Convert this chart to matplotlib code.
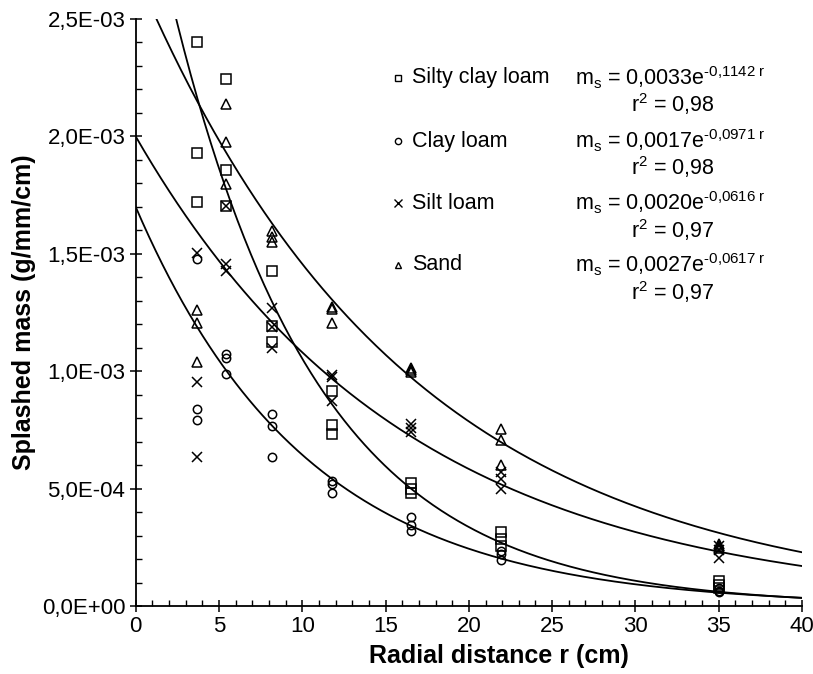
import numpy as np
import matplotlib
matplotlib.use("Agg")
import matplotlib.pyplot as plt
from matplotlib.ticker import FixedLocator, MultipleLocator

plt.rcParams['font.family'] = ['Liberation Sans', 'DejaVu Sans']
plt.rcParams['mathtext.fontset'] = 'custom'
plt.rcParams['mathtext.rm'] = 'Liberation Sans'
plt.rcParams['mathtext.it'] = 'Liberation Sans'

# Radial sampling distances (cm)
distance = [3.7, 5.4, 8.2, 11.8, 16.5, 21.9, 35.0]

# Splashed mass replicates (x1e-3 g/mm/cm) at each distance
silty_clay_loam = [[2.400, 1.930, 1.720], [2.245, 1.855, 1.705], [1.425, 1.193, 1.126],
                   [0.915, 0.771, 0.731], [0.524, 0.500, 0.481], [0.316, 0.287, 0.257],
                   [0.105, 0.090, 0.075]]
clay_loam = [[1.477, 0.840, 0.792], [1.073, 1.058, 0.988], [0.818, 0.767, 0.633],
             [0.531, 0.520, 0.480], [0.379, 0.345, 0.319], [0.235, 0.222, 0.195],
             [0.075, 0.065, 0.061]]
silt_loam = [[1.505, 0.953, 0.633], [1.704, 1.455, 1.428], [1.268, 1.190, 1.100],
             [0.985, 0.975, 0.872], [0.775, 0.760, 0.740], [0.570, 0.540, 0.500],
             [0.255, 0.240, 0.205]]
sand = [[1.261, 1.207, 1.040], [2.137, 1.977, 1.796], [1.595, 1.570, 1.551],
        [1.275, 1.265, 1.204], [1.015, 1.005, 0.995], [0.755, 0.705, 0.600],
        [0.265, 0.255, 0.245]]

# Exponential fits m_s = a * exp(b r)
series_names = ["Silty clay loam", "Clay loam", "Silt loam", "Sand"]
fit_a = [0.0033, 0.0017, 0.0020, 0.0027]
fit_b = [-0.1142, -0.0971, -0.0616, -0.0617]
fit_a_text = ["0,0033", "0,0017", "0,0020", "0,0027"]
fit_b_text = ["-0,1142", "-0,0971", "-0,0616", "-0,0617"]
r2_text = ["0,98", "0,98", "0,97", "0,97"]

x_ticks = [0, 5, 10, 15, 20, 25, 30, 35, 40]
y_ticks = [0.0, 0.5e-3, 1.0e-3, 1.5e-3, 2.0e-3, 2.5e-3]
y_tick_labels = ["0,0E+00", "5,0E-04", "1,0E-03", "1,5E-03", "2,0E-03", "2,5E-03"]

markers = [dict(marker='s', mfc='none', mec='black', ms=6.5, mew=1.1),
           dict(marker='o', mfc='none', mec='black', ms=6.0, mew=1.1),
           dict(marker='x', color='black', ms=7.0, mew=1.1),
           dict(marker='^', mfc='none', mec='black', ms=7.0, mew=1.1)]
legend_markers = [dict(marker='s', mfc='none', mec='black', ms=5.0, mew=1.0),
                  dict(marker='o', mfc='none', mec='black', ms=4.5, mew=1.0),
                  dict(marker='x', color='black', ms=5.5, mew=1.0),
                  dict(marker='^', mfc='none', mec='black', ms=5.0, mew=1.0)]

fig = plt.figure(figsize=(8.13, 6.74), dpi=100)
ax = fig.add_axes([0.1669, 0.1009, 0.8196, 0.8709])

all_series = [silty_clay_loam, clay_loam, silt_loam, sand]
for data, mk in zip(all_series, markers):
    xs = np.repeat(distance, 3)
    ys = np.array(data).ravel() * 1e-3
    ax.plot(xs, ys, linestyle='none', **mk, zorder=3)

r = np.linspace(0, 40, 400)
for a, b in zip(fit_a, fit_b):
    ax.plot(r, a * np.exp(b * r), color='black', lw=1.3, zorder=2)

ax.set_xlim(0, 40)
ax.set_ylim(0, 2.5e-3)
ax.xaxis.set_major_locator(FixedLocator(x_ticks))
ax.xaxis.set_minor_locator(MultipleLocator(1))
ax.yaxis.set_major_locator(FixedLocator(y_ticks))
ax.yaxis.set_minor_locator(MultipleLocator(1e-4))
ax.set_yticklabels(y_tick_labels)

for s in ['top', 'right']:
    ax.spines[s].set_visible(False)
for s in ['left', 'bottom']:
    ax.spines[s].set_linewidth(1.3)

ax.tick_params(which='major', direction='inout', length=9, width=1.1, labelsize=16)
ax.tick_params(axis='y', which='major', pad=3)
ax.tick_params(axis='x', which='major', pad=3)
ax.tick_params(which='minor', direction='in', length=4.5, width=1.0)

ax.set_xlabel("Radial distance r (cm)", fontsize=18, fontweight='bold', labelpad=4)
ax.xaxis.set_label_coords(0.545, -0.065)
ax.set_ylabel("Splashed mass (g/mm/cm)", fontsize=18, fontweight='bold', labelpad=4)

# Legend block with fitted equations
row_y = [0.8995, 0.792, 0.6865, 0.581]
r2_y = [0.855, 0.748, 0.6405, 0.535]
for i in range(4):
    ax.plot([0.394], [row_y[i]], transform=ax.transAxes, linestyle='none',
            clip_on=False, **legend_markers[i])
    ax.text(0.4147, row_y[i], series_names[i], transform=ax.transAxes,
            fontsize=15.5, va='center', ha='left')
    eq = (r"m$_\mathrm{s}$ = " + fit_a_text[i] + "e$^{\\text{" +
          fit_b_text[i] + " r}}$")
    ax.text(0.659, row_y[i], eq, transform=ax.transAxes,
            fontsize=15.5, va='center', ha='left')
    ax.text(0.743, r2_y[i], "r$^\\mathrm{2}$ = " + r2_text[i], transform=ax.transAxes,
            fontsize=15.5, va='center', ha='left')

fig.savefig("out.png", dpi=100)
